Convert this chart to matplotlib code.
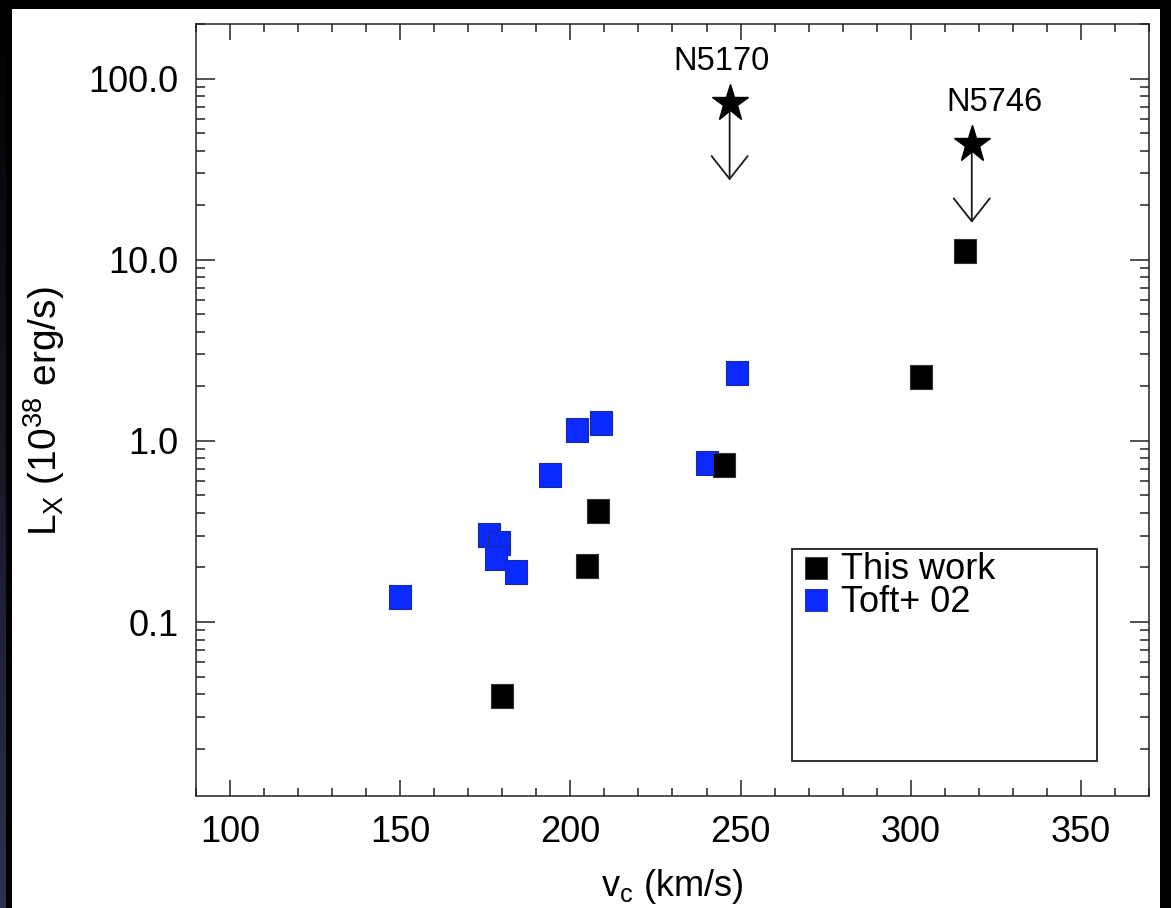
import numpy as np
import matplotlib
matplotlib.use("Agg")
import matplotlib.pyplot as plt
from matplotlib.patches import Rectangle, FancyArrowPatch
from matplotlib.path import Path
from matplotlib.ticker import FixedLocator, LogLocator, NullFormatter, MultipleLocator

plt.rcParams['font.family'] = ['Liberation Sans', 'DejaVu Sans']
plt.rcParams['mathtext.fontset'] = 'custom'
plt.rcParams['mathtext.rm'] = 'Liberation Sans'
plt.rcParams['mathtext.it'] = 'Liberation Sans:italic'

# Galaxies from this work
this_vc = [180, 205, 208, 245, 303, 316]
this_lx = [0.039, 0.204, 0.41, 0.733, 2.24, 11.2]

# Toft et al. 2002 sample
toft_vc = [150, 176, 178.9, 178, 184, 194, 202, 209, 240, 249]
toft_lx = [0.138, 0.302, 0.272, 0.225, 0.188, 0.646, 1.15, 1.26, 0.755, 2.37]

# Upper limits
limit_names = ['N5170', 'N5746']
limit_vc = [246.8, 318.0]
limit_lx = [73.5, 43.4]
limit_arrow_to = [27.4, 16.0]

x_ticks = [100, 150, 200, 250, 300, 350]
y_ticks = [0.1, 1.0, 10.0, 100.0]
y_tick_labels = ['0.1', '1.0', '10.0', '100.0']

W, H = 1171, 908
fig = plt.figure(figsize=(W / 100, H / 100), dpi=100)
fig.patch.set_facecolor('black')

# white page area
fig.add_artist(Rectangle((12 / W, 0), (1160 - 12) / W, (H - 9) / H,
                         transform=fig.transFigure, facecolor='white',
                         edgecolor='none', zorder=0))
# dark navy strip on the far left
strip = fig.add_axes([0, 0, 6 / W, 1])
grad = np.linspace(0, 1, 256)[:, None]
cols = np.zeros((256, 1, 3))
top_c = np.array([0.0, 0.0, 0.0])
bot_c = np.array([0.18, 0.19, 0.31])
cols[:, 0, :] = top_c + (bot_c - top_c) * grad
strip.imshow(cols, aspect='auto', origin='upper')
strip.set_axis_off()

ax = fig.add_axes([196.4 / W, 1 - 795.7 / H, (1148.6 - 196.4) / W, (795.7 - 24) / H])
ax.set_facecolor('white')
ax.set_yscale('log')
ax.set_xlim(90, 370)
ax.set_ylim(0.011, 200)

# slightly tall square marker
sq = Path([(-11, -12), (11, -12), (11, 12), (-11, 12), (-11, -12)],
          [Path.MOVETO, Path.LINETO, Path.LINETO, Path.LINETO, Path.CLOSEPOLY])

ax.plot(toft_vc, toft_lx, linestyle='none', marker=sq, markersize=17.5,
        markerfacecolor='#0a2aff', markeredgecolor='#1a2a9a',
        markeredgewidth=0.8, zorder=3)
ax.plot(this_vc, this_lx, linestyle='none', marker=sq, markersize=17.5,
        markerfacecolor='black', markeredgecolor='#333333',
        markeredgewidth=0.8, zorder=4)

for name, vx, vy, vto, dx in zip(limit_names, limit_vc, limit_lx, limit_arrow_to, [-6, 16]):
    arr = FancyArrowPatch((vx, vy), (vx, vto),
                          arrowstyle='->,head_length=16.5,head_width=13',
                          mutation_scale=1, shrinkA=0, shrinkB=0,
                          lw=1.3, color='#1a1a1a', zorder=5)
    ax.add_patch(arr)
    ax.plot([vx], [vy], linestyle='none', marker='*', markersize=28,
            color='black', zorder=6)
    ax.annotate(name, (vx, vy), xytext=(dx, 30), textcoords='offset points',
                ha='center', va='center', fontsize=23.5, color='black')

# axis ticks
ax.xaxis.set_major_locator(FixedLocator(x_ticks))
ax.xaxis.set_minor_locator(MultipleLocator(10))
ax.set_xticklabels([str(v) for v in x_ticks])
ax.set_yticks(y_ticks)
ax.set_yticklabels(y_tick_labels)
ax.yaxis.set_minor_locator(LogLocator(base=10, subs=np.arange(2, 10)))
ax.yaxis.set_minor_formatter(NullFormatter())

ax.tick_params(which='both', direction='in', top=True, right=True,
               colors='#222222', labelcolor='black', labelsize=26, width=1.1)
ax.tick_params(axis='x', which='major', length=11.5, pad=14)
ax.tick_params(axis='x', which='minor', length=5.8)
ax.tick_params(axis='y', which='major', length=14, pad=13)
ax.tick_params(axis='y', which='minor', length=6.8)
for s in ax.spines.values():
    s.set_linewidth(1.1)
    s.set_color('#222222')

ax.set_xlabel(r'$\mathregular{v_c}$ (km/s)', fontsize=26, va='center')
ax.xaxis.set_label_coords(0.4995, -0.1183)
ax.set_ylabel(r'$\mathregular{L_X\ (10^{38}\ erg/s)}$', fontsize=28, va='center')
ax.yaxis.set_label_coords(-0.160, 0.498)

# legend box with keys
ax.add_patch(Rectangle((0.6252, 0.045), 0.9455 - 0.6252, 0.3197 - 0.045,
                       transform=ax.transAxes, facecolor='none',
                       edgecolor='#222222', lw=1.3, zorder=7))
legend_entries = [('This work', 'black', '#333333', 0.2955),
                  ('Toft+ 02', '#0a2aff', '#1a2a9a', 0.2536)]
for label, fc, ec, ly in legend_entries:
    ax.plot([0.6504], [ly], transform=ax.transAxes, linestyle='none',
            marker='s', markersize=16.3, markerfacecolor=fc,
            markeredgecolor=ec, markeredgewidth=0.6, clip_on=False, zorder=8)
    ax.text(0.6770, ly - 0.003, label, transform=ax.transAxes, fontsize=26,
            ha='left', va='center', color='black', zorder=8)

fig.savefig('out.png', dpi=100, facecolor=fig.get_facecolor())
